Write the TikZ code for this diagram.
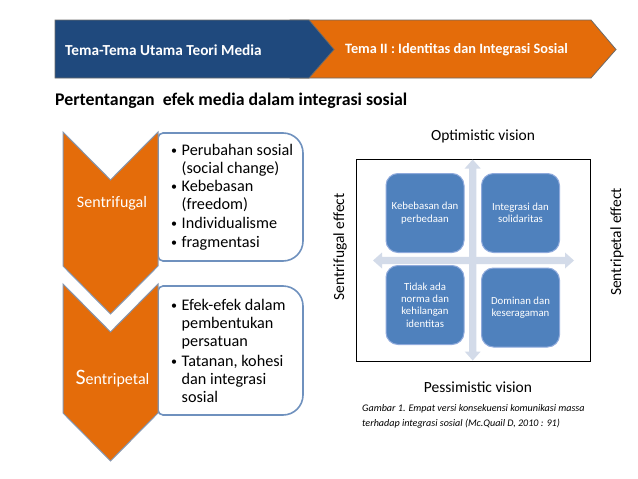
\documentclass[tikz,border=0pt]{standalone}
\usepackage{fontspec}
\setmainfont{Carlito}
\definecolor{bannerblue}{HTML}{1F497D}
\definecolor{bannerorange}{HTML}{E46C0A}
\definecolor{chevorange}{HTML}{E46C0A}
\definecolor{chevborder}{HTML}{8496B0}
\definecolor{boxborder}{HTML}{6F91BE}
\definecolor{qfill}{HTML}{4F81BD}
\definecolor{qborder}{HTML}{8FAADC}
\definecolor{arrowfill}{HTML}{D3DBE9}
\definecolor{outline}{HTML}{6B6B6B}
\newcommand{\lbul}{\makebox[10.5pt][l]{\raisebox{1pt}{\fontsize{12}{12}\selectfont•}}}
\newcommand{\lind}{\hspace*{10.5pt}}
\tikzset{
  bannerpart/.style={draw=outline, line width=0.8pt, line join=miter},
  chevron/.style={fill=chevorange, draw=chevborder, line width=1pt, line join=miter},
  listbox/.style={fill=white, draw=boxborder, line width=1.6pt},
  qbox/.style={fill=qfill, draw=qborder, line width=1pt, rounded corners=12pt,
    minimum width=78pt, minimum height=79pt, inner sep=0pt, text=white, align=center,
    font=\fontsize{10.8}{12.4}\selectfont},
  axislabel/.style={font=\fontsize{15.5}{18}\selectfont, inner sep=0pt},
  listtext/.style={anchor=base west, inner sep=0pt, font=\fontsize{16.2}{17.6}\selectfont},
  chevlabel/.style={text=white, inner sep=0pt, font=\fontsize{16}{18}\selectfont},
  dblarrow/.style={fill=arrowfill, draw=none},
}
\begin{document}
\begin{tikzpicture}[x=1pt,y=-1pt]
\useasboundingbox (0,0) rectangle (638,479);
\fill[white] (0,0) rectangle (638,479);

% ---------- banner ----------
\draw[bannerpart, fill=bannerorange] (290,20) -- (591,20) -- (616,49.5) -- (591,78) -- (290,78) -- cycle;
\draw[bannerpart, fill=bannerblue] (55,20) -- (309,20) -- (334,49.5) -- (309,78) -- (55,78) -- cycle;
\node[anchor=west, text=white, inner sep=0pt, font=\fontsize{15.3}{17}\bfseries\selectfont] (t1) at (65,50) {Tema-Tema Utama Teori Media};
\node[anchor=west, text=white, inner sep=0pt, font=\fontsize{14.3}{16}\bfseries\selectfont] (t2) at (345,50) {Tema II : Identitas dan Integrasi Sosial};

% ---------- title ----------
\node[anchor=west, inner sep=0pt, font=\fontsize{17.8}{19}\bfseries\selectfont] (title) at (55,101) {Pertentangan\ \ efek media dalam integrasi sosial};

% ---------- list boxes ----------
\draw[listbox] (163,133) -- (283,133) arc(-90:0:20) -- (303,241) arc(0:90:20) -- (163,261) arc(90:180:5) -- (158,138) arc(180:270:5) -- cycle;
\draw[listbox] (163,286) -- (283,286) arc(-90:0:20) -- (303,395) arc(0:90:20) -- (163,415) arc(90:180:5) -- (158,291) arc(180:270:5) -- cycle;

% ---------- chevrons ----------
\draw[chevron] (63,132) -- (110.5,180) -- (158,132) -- (158,266) -- (110.5,314) -- (63,266) -- cycle;
\draw[chevron] (63,284) -- (110.5,332) -- (158,284) -- (158,413) -- (110.5,461) -- (63,413) -- cycle;
\node[chevlabel] (c1) at (112,203.7) {Sentrifugal};
\node[chevlabel] (c2) at (112.5,378.7) {{\fontsize{22}{22}\selectfont S}entripetal};

% ---------- list texts ----------
\node[listtext] (l1) at (171,155.4) {\parbox[t]{135pt}{\raggedright
  \lbul Perubahan sosial\\
  \lind (social change)\\[1.2pt]
  \lbul Kebebasan\\
  \lind (freedom)\\[1.2pt]
  \lbul Individualisme\\[1.2pt]
  \lbul fragmentasi}};
\node[listtext] (l2) at (171,310.8) {\parbox[t]{135pt}{\raggedright
  \lbul Efek-efek dalam\\
  \lind pembentukan\\
  \lind persatuan\\[3.2pt]
  \lbul Tatanan, kohesi\\
  \lind dan integrasi\\
  \lind sosial}};

% ---------- quadrant diagram ----------
\node[draw=black, line width=0.8pt, minimum width=234pt, minimum height=202pt, inner sep=0pt] (frame) at (473,260) {};
\coordinate (vtop) at (472.7,159.5);
\coordinate (vbot) at (472.7,360.5);
\coordinate (hl) at (373,260.5);
\coordinate (hr) at (574,260.5);
% vertical double arrow
\fill[dblarrow] (vtop) -- ([xshift=8pt,yshift=-9pt]vtop) -- ([xshift=3.6pt,yshift=-9pt]vtop)
  -- ([xshift=3.6pt,yshift=9pt]vbot) -- ([xshift=8pt,yshift=9pt]vbot) -- (vbot)
  -- ([xshift=-8pt,yshift=9pt]vbot) -- ([xshift=-3.6pt,yshift=9pt]vbot)
  -- ([xshift=-3.6pt,yshift=-9pt]vtop) -- ([xshift=-8pt,yshift=-9pt]vtop) -- cycle;
% horizontal double arrow
\fill[dblarrow] (hl) -- ([xshift=9pt,yshift=8pt]hl) -- ([xshift=9pt,yshift=3.6pt]hl)
  -- ([xshift=-9pt,yshift=3.6pt]hr) -- ([xshift=-9pt,yshift=8pt]hr) -- (hr)
  -- ([xshift=-9pt,yshift=-8pt]hr) -- ([xshift=-9pt,yshift=-3.6pt]hr)
  -- ([xshift=9pt,yshift=-3.6pt]hl) -- ([xshift=9pt,yshift=-8pt]hl) -- cycle;

\node[qbox] (q1) at (425,213) {Kebebasan dan\\perbedaan};
\node[qbox] (q2) at (520.5,213) {Integrasi dan\\solidaritas};
\node[qbox] (q3) at (425,305) {Tidak ada\\norma dan\\kehilangan\\identitas};
\node[qbox] (q4) at (520.5,307.5) {Dominan dan\\keseragaman};
\path[use as bounding box] (0,0) rectangle (638,479);

\node[axislabel] (opt) at (483,136) {Optimistic vision};
\node[axislabel] (pes) at (478,387) {Pessimistic vision};
\node[axislabel, rotate=90] (sf) at (340,247) {Sentrifugal effect};
\node[axislabel, rotate=90] (sp) at (617,242) {Sentripetal effect};

\node[anchor=west, inner sep=0pt, font=\fontsize{10.1}{12}\itshape\selectfont] (cap1) at (362,409.3) {Gambar 1. Empat versi konsekuensi komunikasi massa};
\node[anchor=west, inner sep=0pt, font=\fontsize{10.1}{12}\itshape\selectfont] (cap2) at (362,423.3) {terhadap integrasi sosial (Mc.Quail D, 2010 : 91)};
\end{tikzpicture}
\end{document}
